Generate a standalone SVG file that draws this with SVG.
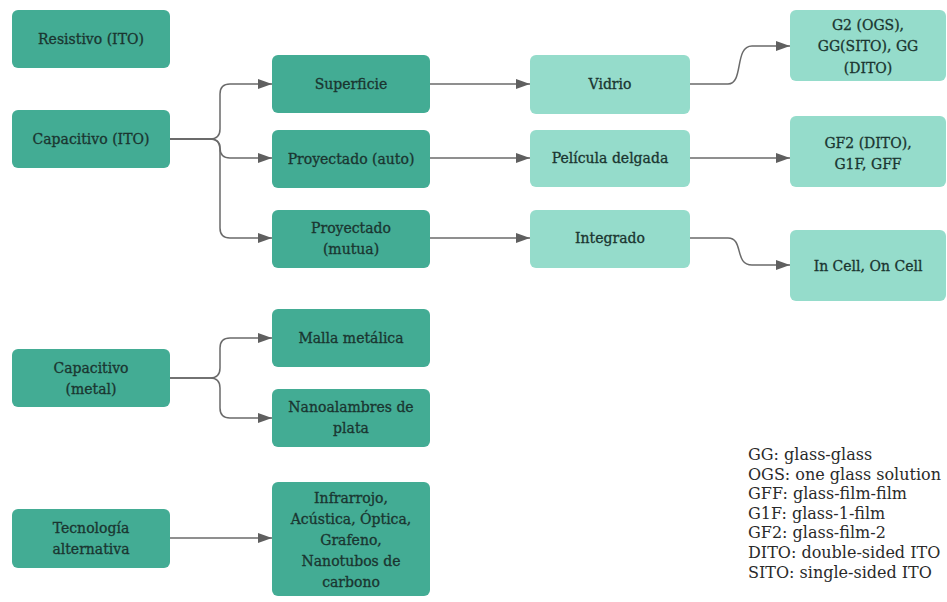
<svg xmlns="http://www.w3.org/2000/svg" width="947" height="602" viewBox="0 0 947 602">
  <style>
    .dark { fill: #43ac94; }
    .light { fill: #95dccb; }
    .lbl { font-family: "DejaVu Serif", "Liberation Serif", serif; font-size: 14px; fill: #1a3530; stroke: #1a3530; stroke-width: 0.3; text-anchor: middle; }
    .legend { font-family: "DejaVu Serif", "Liberation Serif", serif; font-size: 16px; fill: #2a2a2a; }
    .edge { fill: none; stroke: #6a6a6a; stroke-width: 1.5; marker-end: url(#arrow); }
  </style>
  <defs>
    <marker id="arrow" viewBox="0 0 14 10" refX="14" refY="5" markerWidth="14" markerHeight="10" markerUnits="userSpaceOnUse" orient="auto">
      <path d="M0,0 L14,5 L0,10 Z" fill="#5f5f5f"/>
    </marker>
  </defs>
  <rect width="947" height="602" fill="#ffffff"/>

  <!-- connectors -->
  <g id="connectors">
    <path class="edge" d="M170,139 H210 Q220,139 220,129 V94 Q220,84 230,84 H272"/>
    <path class="edge" d="M170,139 H210 Q220,139 220,148 Q220,158 230,158 H272"/>
    <path class="edge" d="M170,139 H210 Q220,139 220,149 V228 Q220,238 230,238 H272"/>
    <path class="edge" d="M430,84 H530"/>
    <path class="edge" d="M430,158 H530"/>
    <path class="edge" d="M430,238 H530"/>
    <path class="edge" d="M690,84 H728 C744,84 734,46 752,46 H790"/>
    <path class="edge" d="M690,158 H790"/>
    <path class="edge" d="M690,238 H728 C744,238 734,265 752,265 H790"/>
    <path class="edge" d="M170,378 H210 Q220,378 220,368 V348 Q220,338 230,338 H272"/>
    <path class="edge" d="M170,378 H210 Q220,378 220,388 V408 Q220,418 230,418 H272"/>
    <path class="edge" d="M170,538 H272"/>
  </g>

  <!-- first column -->
  <g id="resistivo-ito">
    <rect class="dark" x="12" y="10" width="158" height="58" rx="6"/>
    <text class="lbl" x="91" y="44">Resistivo (ITO)</text>
  </g>
  <g id="capacitivo-ito">
    <rect class="dark" x="12" y="110" width="158" height="58" rx="6"/>
    <text class="lbl" x="91" y="144">Capacitivo (ITO)</text>
  </g>
  <g id="capacitivo-metal">
    <rect class="dark" x="12" y="349" width="158" height="58" rx="6"/>
    <text class="lbl" x="91" y="373">Capacitivo</text>
    <text class="lbl" x="91" y="394">(metal)</text>
  </g>
  <g id="tecnologia-alternativa">
    <rect class="dark" x="12" y="509" width="158" height="59" rx="6"/>
    <text class="lbl" x="91" y="533">Tecnología</text>
    <text class="lbl" x="91" y="554">alternativa</text>
  </g>

  <!-- second column -->
  <g id="superficie">
    <rect class="dark" x="272" y="55" width="158" height="58" rx="6"/>
    <text class="lbl" x="351" y="89">Superficie</text>
  </g>
  <g id="proyectado-auto">
    <rect class="dark" x="272" y="130" width="158" height="58" rx="6"/>
    <text class="lbl" x="351" y="164">Proyectado (auto)</text>
  </g>
  <g id="proyectado-mutua">
    <rect class="dark" x="272" y="210" width="158" height="58" rx="6"/>
    <text class="lbl" x="351" y="233">Proyectado</text>
    <text class="lbl" x="351" y="254">(mutua)</text>
  </g>
  <g id="malla-metalica">
    <rect class="dark" x="272" y="309" width="158" height="58" rx="6"/>
    <text class="lbl" x="351" y="343">Malla metálica</text>
  </g>
  <g id="nanoalambres">
    <rect class="dark" x="272" y="389" width="158" height="58" rx="6"/>
    <text class="lbl" x="351" y="412">Nanoalambres de</text>
    <text class="lbl" x="351" y="433">plata</text>
  </g>
  <g id="alternativas">
    <rect class="dark" x="272" y="482" width="158" height="114" rx="6"/>
    <text class="lbl" x="351" y="503">Infrarrojo,</text>
    <text class="lbl" x="351" y="524">Acústica, Óptica,</text>
    <text class="lbl" x="351" y="545">Grafeno,</text>
    <text class="lbl" x="351" y="566">Nanotubos de</text>
    <text class="lbl" x="351" y="587">carbono</text>
  </g>

  <!-- third column -->
  <g id="vidrio">
    <rect class="light" x="530" y="55" width="160" height="59" rx="6"/>
    <text class="lbl" x="610" y="89">Vidrio</text>
  </g>
  <g id="pelicula-delgada">
    <rect class="light" x="530" y="130" width="160" height="57" rx="6"/>
    <text class="lbl" x="610" y="163">Película delgada</text>
  </g>
  <g id="integrado">
    <rect class="light" x="530" y="210" width="160" height="58" rx="6"/>
    <text class="lbl" x="610" y="243">Integrado</text>
  </g>

  <!-- fourth column -->
  <g id="vidrio-tipos">
    <rect class="light" x="790" y="10" width="156" height="71" rx="6"/>
    <text class="lbl" x="868" y="30">G2 (OGS),</text>
    <text class="lbl" x="868" y="51">GG(SITO), GG</text>
    <text class="lbl" x="868" y="73">(DITO)</text>
  </g>
  <g id="pelicula-tipos">
    <rect class="light" x="790" y="116" width="156" height="71" rx="6"/>
    <text class="lbl" x="868" y="148">GF2 (DITO),</text>
    <text class="lbl" x="868" y="169">G1F, GFF</text>
  </g>
  <g id="integrado-tipos">
    <rect class="light" x="790" y="230" width="156" height="71" rx="6"/>
    <text class="lbl" x="868" y="271">In Cell, On Cell</text>
  </g>

  <!-- abbreviations -->
  <g id="legend" class="legend">
    <text x="748" y="460">GG: glass-glass</text>
    <text x="748" y="480">OGS: one glass solution</text>
    <text x="748" y="499">GFF: glass-film-film</text>
    <text x="748" y="519">G1F: glass-1-film</text>
    <text x="748" y="538">GF2: glass-film-2</text>
    <text x="748" y="558">DITO: double-sided ITO</text>
    <text x="748" y="578">SITO: single-sided ITO</text>
  </g>
</svg>
